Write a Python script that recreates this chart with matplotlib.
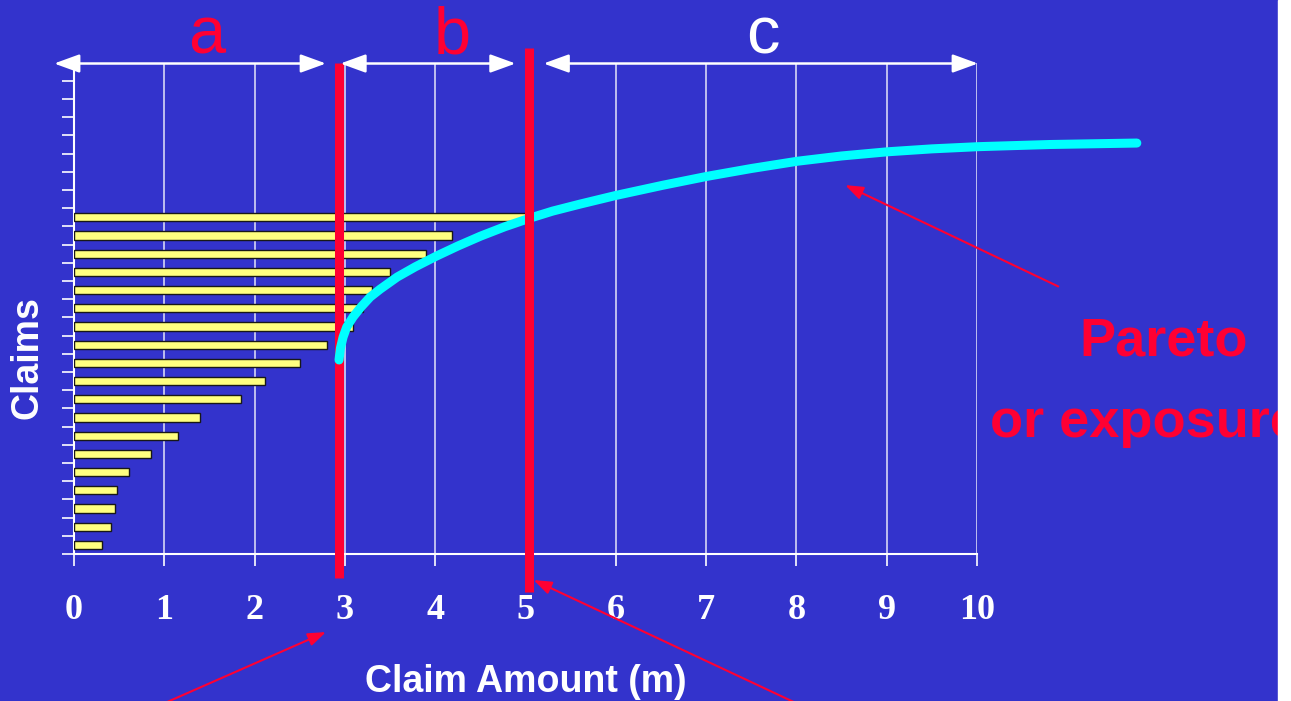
import matplotlib
matplotlib.use("Agg")
import matplotlib.pyplot as plt
from matplotlib.patches import Rectangle

# ---- data ----
x_ticks = [0, 1, 2, 3, 4, 5, 6, 7, 8, 9, 10]
x_tick_labels = [str(v) for v in x_ticks]
y_ticks = list(range(0, 27))

# claim bars, bottom to top (claim amount in m)
claim_pos = [0.5, 1.5, 2.5, 3.5, 4.5, 5.5, 6.5, 7.5, 8.5, 9.5,
             10.5, 11.5, 12.5, 13.5, 14.5, 15.5, 16.5, 17.5, 18.5]
claim_amount = [0.31, 0.41, 0.45, 0.48, 0.61, 0.85, 1.15, 1.40, 1.85, 2.12,
                2.50, 2.80, 3.09, 3.20, 3.30, 3.50, 3.90, 4.19, 5.00]

# Pareto / exposure curve
curve_x = [2.935, 2.95, 2.98, 3.02, 3.09, 3.18, 3.28, 3.39, 3.58, 3.78, 4.01,
           4.25, 4.50, 4.77, 5.04, 5.30, 5.60, 6.00, 6.52, 7.01, 7.50, 8.01,
           8.50, 9.01, 9.50, 10.01, 10.81, 11.77]
curve_y = [10.66, 11.30, 11.92, 12.47, 13.02, 13.58, 14.12, 14.55, 15.22,
           15.78, 16.36, 16.92, 17.46, 17.98, 18.44, 18.84, 19.22, 19.70,
           20.26, 20.75, 21.18, 21.58, 21.87, 22.10, 22.26, 22.38, 22.50,
           22.58]

# layer boundaries
limit_x = [2.94, 5.04]
limit_top = [27.0, 27.8]
limit_bottom = [-1.32, -2.09]

# layer ranges (top arrows)
layer_names = ["a", "b", "c"]
layer_from = [-0.22, 2.95, 5.20]
layer_to = [2.79, 4.89, 10.01]
layer_label_x = [1.47, 4.19, 7.63]

BG = "#3333CC"
RED = "#FF0033"
CYAN = "#00FFFF"
BAR = "#FFFF80"
GRID = "#D6D6F6"

W, H = 1291, 701
fig = plt.figure(figsize=(W / 100, H / 100), dpi=100, facecolor=BG)
ax = fig.add_axes([74 / W, (H - 554) / H, (977 - 74) / W, (554 - 62.6) / H])
ax.set_facecolor(BG)
ax.set_xlim(0, 10)
ax.set_ylim(0, 27)
ax.set_axisbelow(True)

for s in ["top", "right"]:
    ax.spines[s].set_visible(False)
for s in ["left", "bottom"]:
    ax.spines[s].set_color("white")
    ax.spines[s].set_linewidth(1.5)

ax.grid(axis="x", color=GRID, lw=1.2)
ax.set_xticks(x_ticks)
ax.set_xticklabels(x_tick_labels, fontfamily="Liberation Serif",
                   fontweight="bold", fontsize=26, color="white")
ax.set_yticks(y_ticks)
ax.set_yticklabels([])
ax.tick_params(axis="both", direction="out", colors="white", length=8.6,
               width=1.2)
ax.tick_params(axis="x", pad=20)

# bars
ax.barh(claim_pos, claim_amount, height=0.45, color=BAR, edgecolor="#181818",
        linewidth=1.0, zorder=3)

# red boundaries and curve
ax.plot([limit_x[0], limit_x[0]], [limit_top[0], limit_bottom[0]], color=RED,
        lw=6.5, solid_capstyle="butt", clip_on=False, zorder=4)
ax.plot(curve_x, curve_y, color=CYAN, lw=6.5, solid_capstyle="round",
        solid_joinstyle="round", clip_on=False, zorder=5)
ax.plot([limit_x[1], limit_x[1]], [limit_top[1], limit_bottom[1]], color=RED,
        lw=6.5, solid_capstyle="butt", clip_on=False, zorder=6)

# top double arrows with labels
label_colors = [RED, RED, "white"]
for name, x0, x1, lx, col in zip(layer_names, layer_from, layer_to,
                                  layer_label_x, label_colors):
    ax.annotate("", xy=(x0, 26.95), xytext=(x1, 26.95),
                arrowprops=dict(arrowstyle="<|-|>,head_length=0.55,head_width=0.2",
                                color="white", lw=1.8, mutation_scale=28,
                                shrinkA=0, shrinkB=0),
                annotation_clip=False, zorder=7)
    ax.text(lx, 27.5, name, ha="center", va="baseline", fontsize=48,
            fontfamily="Liberation Sans", color=col, clip_on=False)

# red pointer arrows
pointer_tip = [(8.54, 20.27), (2.79, -4.29), (5.09, -1.43)]
pointer_start = [(10.9, 14.7), (1.0, -8.2), (8.0, -8.2)]
for tip, st in zip(pointer_tip, pointer_start):
    ax.annotate("", xy=tip, xytext=st,
                arrowprops=dict(arrowstyle="-|>,head_length=0.6,head_width=0.22",
                                color=RED, lw=1.5, mutation_scale=18,
                                shrinkA=0, shrinkB=0),
                annotation_clip=False, zorder=8)

# texts
ax.text(11.13, 10.93, "Pareto", ha="left", va="baseline", fontsize=39,
        fontweight="bold", fontfamily="Liberation Sans", color=RED,
        clip_on=False)
ax.text(10.14, 6.43, "or exposure", ha="left", va="baseline", fontsize=39,
        fontweight="bold", fontfamily="Liberation Sans", color=RED,
        clip_on=False)
ax.text(5.0, -7.58, "Claim Amount (m)", ha="center", va="baseline",
        fontsize=27, fontweight="bold", fontfamily="Liberation Sans",
        color="white", clip_on=False)
ax.text(-0.51, 10.8, "Claims", ha="center", va="center", rotation=90,
        fontsize=27, fontweight="bold", fontfamily="Liberation Sans",
        color="white", clip_on=False)

# white strip at right edge
fig.add_artist(Rectangle((1278 / W, 0), (W - 1278) / W, 1,
                         transform=fig.transFigure, color="white", zorder=100))

fig.savefig("out.png", dpi=100, facecolor=BG)
